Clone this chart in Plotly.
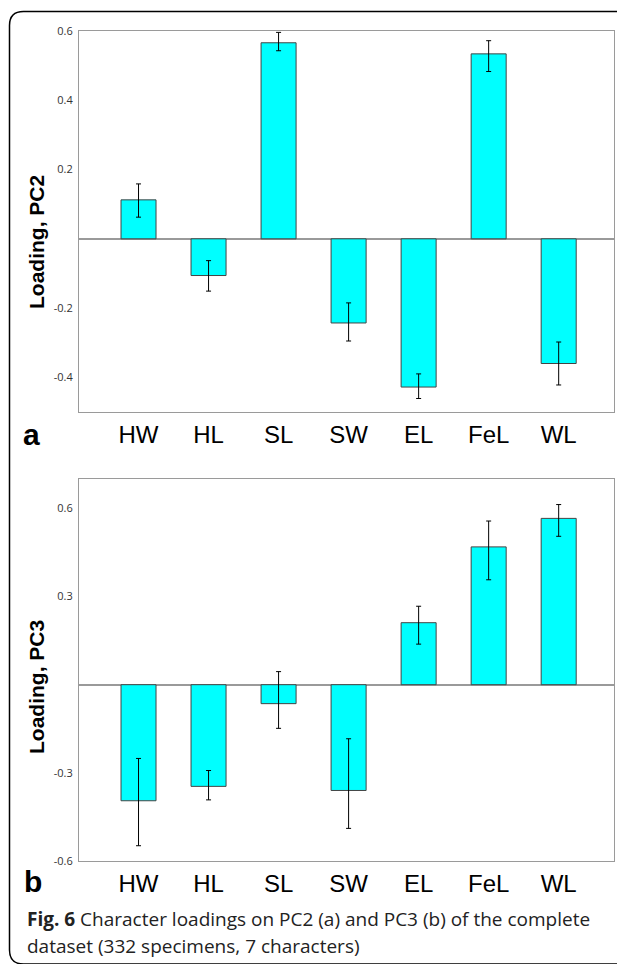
import plotly.graph_objects as go

# The page body has an 8px margin, so the figure is offset by 8px in the window.
OFF = 8
W, H = 625 - OFF, 964 - OFF

categories = ["HW", "HL", "SL", "SW", "EL", "FeL", "WL"]

pc2_values = [0.1125, -0.106, 0.566, -0.243, -0.428, 0.534, -0.360]
pc2_err_plus = [0.046, 0.043, 0.030, 0.058, 0.038, 0.038, 0.062]
pc2_err_minus = [0.050, 0.045, 0.023, 0.052, 0.033, 0.051, 0.062]

pc3_values = [-0.395, -0.346, -0.0645, -0.360, 0.211, 0.469, 0.566]
pc3_err_plus = [0.144, 0.054, 0.109, 0.176, 0.056, 0.088, 0.047]
pc3_err_minus = [0.153, 0.046, 0.084, 0.129, 0.073, 0.112, 0.061]

pc2_tickvals = [0.6, 0.4, 0.2, -0.2, -0.4]
pc2_ticktext = ["0.6", "0.4", "0.2", "-0.2", "-0.4"]
pc3_tickvals = [0.6, 0.3, -0.3, -0.6]
pc3_ticktext = ["0.6", "0.3", "-0.3", "-0.6"]

caption_bold = "Fig. 6"
caption_line1 = " Character loadings on PC2 (a) and PC3 (b) of the complete"
caption_line2 = "dataset (332 specimens, 7 characters)"

def px_x(p):
    return (p - OFF) / W

def px_y(p):
    return 1 - (p - OFF) / H

fig = go.Figure()

bar_style = dict(
    marker=dict(color="#00FFFF", line=dict(color="#444444", width=1)),
    width=0.5,
    showlegend=False,
)
err_style = dict(type="data", symmetric=False, color="black", thickness=1, width=2.5)

fig.add_trace(go.Bar(
    x=categories, y=pc2_values,
    error_y=dict(array=pc2_err_plus, arrayminus=pc2_err_minus, **err_style),
    xaxis="x", yaxis="y", **bar_style,
))
fig.add_trace(go.Bar(
    x=categories, y=pc3_values,
    error_y=dict(array=pc3_err_plus, arrayminus=pc3_err_minus, **err_style),
    xaxis="x2", yaxis="y2", **bar_style,
))

xdom = [px_x(79), px_x(614)]
axis_common = dict(
    showgrid=False, showline=True, linecolor="#9a9a9a", linewidth=1, mirror=True,
    automargin=False,
)
xcommon = dict(
    axis_common, domain=xdom, range=[-0.85, 6.79], ticks="",
    tickfont=dict(family="Liberation Sans, Arial", size=24, color="black"),
    ticklabelstandoff=1, zeroline=False,
)
ycommon = dict(
    axis_common, ticks="", zeroline=True, zerolinecolor="#9a9a9a", zerolinewidth=1.5,
    tickfont=dict(family="Open Sans", size=11, color="#333333"),
    ticklabelstandoff=3,
)

fig.update_layout(
    width=W, height=H,
    margin=dict(l=0, r=0, t=0, b=0, pad=0),
    paper_bgcolor="white", plot_bgcolor="white",
    template="none",
    bargap=0.5,
    xaxis=dict(xcommon, anchor="y"),
    yaxis=dict(ycommon, domain=[px_y(412), px_y(31)], range=[-0.5, 0.6],
               tickvals=pc2_tickvals, ticktext=pc2_ticktext, anchor="x"),
    xaxis2=dict(xcommon, anchor="y2"),
    yaxis2=dict(ycommon, domain=[px_y(861), px_y(479)], range=[-0.6, 0.7],
                tickvals=pc3_tickvals, ticktext=pc3_ticktext, anchor="x2"),
)

# axis titles
for txt, yc in [("Loading, PC2", 242), ("Loading, PC3", 687)]:
    fig.add_annotation(
        text=txt, xref="paper", yref="paper", x=px_x(36), y=px_y(yc),
        xanchor="center", yanchor="middle", textangle=-90, showarrow=False,
        font=dict(family="Liberation Sans, Arial", size=21, color="black", weight="bold"),
    )

# panel labels
for txt, xc, yc in [("a", 31.5, 434), ("b", 33, 881)]:
    fig.add_annotation(
        text=f"<b>{txt}</b>", xref="paper", yref="paper", x=px_x(xc), y=px_y(yc),
        xanchor="center", yanchor="middle", showarrow=False,
        font=dict(family="Liberation Sans, Arial", size=30, color="black"),
    )

# caption
fig.add_annotation(
    text=f"<b>{caption_bold}</b>{caption_line1}", xref="paper", yref="paper",
    x=px_x(25), y=px_y(919), xanchor="left", yanchor="middle", showarrow=False,
    font=dict(family="Open Sans", size=19, color="#222222"),
)
fig.add_annotation(
    text=caption_line2, xref="paper", yref="paper",
    x=px_x(25), y=px_y(946), xanchor="left", yanchor="middle", showarrow=False,
    font=dict(family="Open Sans", size=19, color="#222222"),
)

# rounded frame
L, T, R, B, r = 9.5, 11.5, 645, 964, 14
rx, ry = r / W, r / H
xl, xr = px_x(L), px_x(R)
yt, yb = px_y(T), px_y(B)
path = (
    f"M {xl+rx},{yt} L {xr-rx},{yt} Q {xr},{yt} {xr},{yt-ry} "
    f"L {xr},{yb+ry} Q {xr},{yb} {xr-rx},{yb} "
    f"L {xl+rx},{yb} Q {xl},{yb} {xl},{yb+ry} "
    f"L {xl},{yt-ry} Q {xl},{yt} {xl+rx},{yt} Z"
)
fig.add_shape(type="path", path=path, xref="paper", yref="paper",
              line=dict(color="black", width=1.5), fillcolor="rgba(0,0,0,0)")

fig.write_html("out.html")
